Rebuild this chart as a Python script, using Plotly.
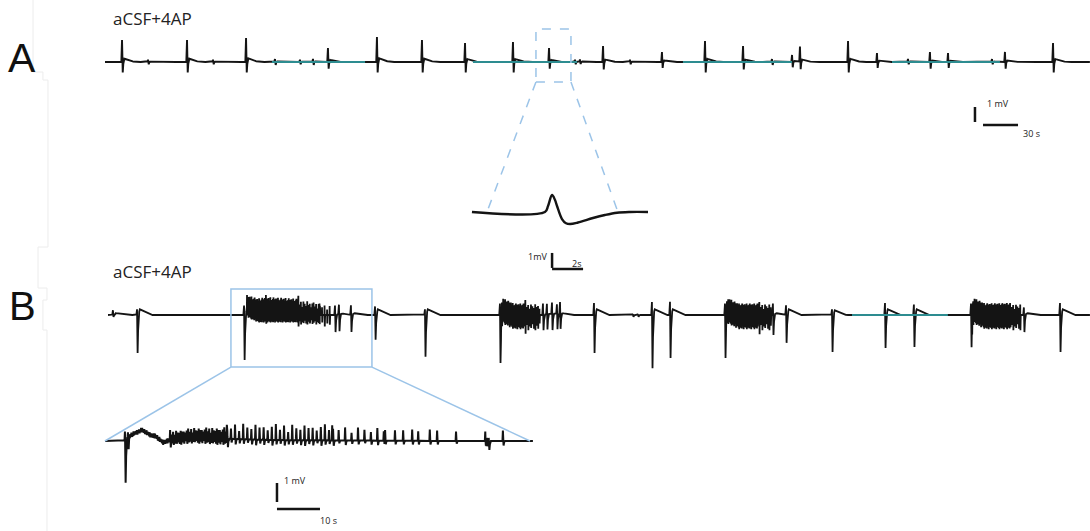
import numpy as np
import plotly.graph_objects as go

W, H = 1090, 531

# ---------------- DATA ----------------
# Panel A : 4-AP interictal events (time in s, deflections in mV)
A_DURATION = 844.3
A_T = [14.6, 36.9, 70.3, 92.6, 120.9, 145.7, 167.1, 178.3, 191.1, 233.1, 271.7, 308.6,
       349.7, 380.6, 402.9, 407.1, 426.9, 450.0, 477.4, 514.3, 546.9, 571.7, 588.9, 595.7,
       636.9, 661.7, 688.3, 707.1, 722.6, 760.3, 771.4, 812.6]
A_UP = [1.47, 0.15, 1.47, 0.15, 1.6, 0.2, 0.15, 0.2, 0.93, 1.67, 1.47, 1.27,
        1.33, 0.93, 0.15, 0.15, 1.07, 0.15, 0.67, 1.4, 1.07, 0.2, 0.47, 1.0,
        1.4, 0.6, 0.2, 0.67, 0.6, 0.2, 0.67, 1.27]
A_DN = [0.7, 0.15, 0.7, 0.15, 0.7, 0.2, 0.15, 0.2, 0.45, 0.7, 0.7, 0.7,
        0.7, 0.45, 0.15, 0.15, 0.5, 0.15, 0.4, 0.7, 0.5, 0.2, 0.35, 0.5,
        0.7, 0.4, 0.15, 0.45, 0.4, 0.15, 0.45, 0.7]
A_TEAL_START = [143.1, 315.4, 495.4, 674.6]
A_TEAL_END = [222.9, 404.6, 588.9, 767.1]
A_BOX_T = [369.4, 399.4]
A_BOX_V = [-1.33, 2.2]

# Panel A inset (single event, expanded)
AI_T = [0.77, 5.48, 5.68, 5.94, 6.13, 6.26, 6.58, 6.84, 7.10, 7.61, 8.58, 9.35, 10.13, 10.97, 12.13]
AI_V = [0.0, 0.0, 0.4, 1.13, 0.8, 0.4, -0.47, -0.75, -0.8, -0.7, -0.4, -0.2, -0.05, 0.0, 0.0]
AI_LINK_T = [1.74, 10.19]

# Panel B : ictal-like discharges
B_DURATION = 696.5
B_T = [3.5, 20.6, 96.5, 161.0, 163.8, 172.3, 189.4, 224.8, 278.0, 308.5, 311.3, 314.9,
       318.4, 320.6, 344.7, 372.3, 375.9, 385.8, 398.6, 437.6, 471.6, 480.9, 513.5,
       551.1, 571.6, 612.1, 649.6, 675.2]
B_UP = [0.25, 0.3, 0.5, 0.5, 0.5, 0.5, 0.45, 0.3, 0.6, 0.6, 0.55, 0.6,
        0.5, 0.6, 0.63, 0.05, 0.05, 0.68, 0.7, 0.6, 0.6, 0.5, 0.3,
        0.63, 0.55, 0.6, 0.4, 0.63]
B_DN = [0.1, 2.0, 2.37, 0.9, 0.9, 0.9, 1.3, 2.2, 2.63, 0.8, 0.8, 0.85,
        0.8, 0.8, 2.0, 0.1, 0.1, 2.8, 2.26, 2.26, 1.05, 1.47, 1.95,
        1.74, 1.68, 1.7, 0.9, 1.95]
B_HUMP = [0.1, 0.3, 0.3, 0.05, 0.05, 0.1, 0.3, 0.3, 0.3, 0.05, 0.05, 0.05,
          0.05, 0.05, 0.3, 0.0, 0.0, 0.3, 0.3, 0.3, 0.1, 0.3, 0.25,
          0.3, 0.3, 0.3, 0.1, 0.3]
# burst segments: start, end, interval, up at start, up at end, down
B_SEG_START = [98.6, 112.0, 135.0, 150.0, 278.5, 296.0, 439.0, 462.0, 612.8, 640.0]
B_SEG_END = [112.0, 135.0, 150.0, 157.5, 296.0, 306.5, 462.0, 469.5, 640.0, 646.8]
B_SEG_INT = [0.45, 0.45, 0.9, 1.8, 0.45, 1.0, 0.45, 1.0, 0.45, 1.0]
B_SEG_UP0 = [0.75, 0.95, 0.8, 0.6, 0.6, 0.6, 0.6, 0.6, 0.6, 0.6]
B_SEG_UP1 = [0.95, 0.85, 0.6, 0.5, 0.6, 0.55, 0.6, 0.55, 0.63, 0.55]
B_SEG_DN = [0.4, 0.4, 0.5, 0.6, 0.75, 0.8, 0.75, 0.8, 0.75, 0.8]
JAG = [1.0, 0.7, 0.9, 0.55, 0.95, 0.8, 0.65, 1.0, 0.75, 0.85, 0.6, 0.9]
B_TEAL_START = [527.7]
B_TEAL_END = [595.7]
B_BOX_T = [87.2, 187.2]
B_BOX_V = [-2.74, 1.37]

# Panel B inset (first discharge, expanded)
BI_START, BI_END = 1.16, 100.7
BI_SLOW_T = [1.16, 5.4, 7.0, 8.3, 9.7, 11.6, 12.8, 14.7, 17.0, 22.0, 29.5, 40.0, 80.0, 100.7]
BI_SLOW_V = [0.0, 0.0, 0.3, 0.45, 0.6, 0.35, 0.28, -0.05, 0.12, 0.22, 0.12, 0.05, 0.0, 0.0]
BI_SEG_START = [6.8, 16.3, 29.5, 54.0]
BI_SEG_END = [16.3, 29.5, 54.0, 66.0]
BI_SEG_INT = [0.25, 0.35, 0.95, 1.5]
BI_SEG_UP0 = [0.18, 0.4, 0.85, 0.8]
BI_SEG_UP1 = [0.18, 0.6, 0.85, 0.65]
BI_SEG_DN = [0.16, 0.35, 0.3, 0.25]
BI_T = [5.81, 6.5, 66.3, 68.6, 70.5, 72.6, 74.0, 76.7, 78.4, 82.8,
        89.6, 89.8, 90.0, 90.2, 90.4, 93.7]
BI_UP = [0.47, 0.25, 0.6, 0.55, 0.55, 0.6, 0.5, 0.6, 0.55, 0.5,
         0.5, 0.45, 0.5, 0.45, 0.5, 0.55]
BI_DN = [2.3, 0.7, 0.2, 0.2, 0.2, 0.2, 0.2, 0.2, 0.2, 0.15,
         0.5, 0.45, 0.5, 0.45, 0.5, 0.25]
BI_LINK_T = [1.16, 100.0]

# scale bars (panel anchors: time, mV; bar lengths: mV, s)
SB_A = dict(t=745.7, v=-3.0, mv=1.0, th=752.6, vh=-4.2, s=30)
SB_AI = dict(t=5.94, v=-2.73, mv=1.0, th=5.94, vh=-3.8, s=2)
SB_BI = dict(t=41.16, v=-2.21, mv=1.0, th=41.16, vh=-3.58, s=10)

# ---------------- LAYOUT GEOMETRY ----------------
PANELS = {
    'A': dict(n=1, xd=(105, 1090), yd=(20, 140), xr=(0, A_DURATION), yr=(-5.2, 2.8)),
    'AI': dict(n=2, xd=(460, 660), yd=(180, 280), xr=(0, 12.903), yr=(-4.533, 2.133)),
    'B': dict(n=3, xd=(108, 1090), yd=(270, 380), xr=(0, B_DURATION), yr=(-3.421, 2.368)),
    'BI': dict(n=4, xd=(100, 540), yd=(395, 531), xr=(0, 102.33), yr=(-4.737, 2.421)),
}


def ax(key):
    n = PANELS[key]['n']
    s = '' if n == 1 else str(n)
    return 'x' + s, 'y' + s


def paper(key, t, v):
    p = PANELS[key]
    px = p['xd'][0] + (t - p['xr'][0]) / (p['xr'][1] - p['xr'][0]) * (p['xd'][1] - p['xd'][0])
    py = p['yd'][1] - (v - p['yr'][0]) / (p['yr'][1] - p['yr'][0]) * (p['yd'][1] - p['yd'][0])
    return px / W, 1 - py / H


def add_ev(y, t, t0, offs, vals):
    y += np.interp(t - t0, offs, vals, left=0.0, right=0.0)


def add_trains(y, t, starts, ends, ints, up0s, up1s, dns, offs):
    for s, e, iv, u0, u1, d in zip(starts, ends, ints, up0s, up1s, dns):
        n = int(round((e - s) / iv))
        for k in range(n + 1):
            frac = k / max(n, 1)
            up = (u0 + (u1 - u0) * frac) * JAG[k % len(JAG)]
            dd = d * JAG[(k + 5) % len(JAG)]
            add_ev(y, t, s + k * iv, offs, [0, up, -dd, 0])


# ---------------- BUILD TRACES ----------------
tA = np.arange(0, A_DURATION, 0.1)
yA = np.zeros_like(tA)
for t0, u, d in zip(A_T, A_UP, A_DN):
    h = 0.15 * u
    add_ev(yA, tA, t0, [-0.6, 0, 0.6, 1.2, 2.0, 4.0, 8.0, 12.0], [0, u, -d, 0, h, 0.7 * h, 0.25 * h, 0])

tB = np.arange(0, B_DURATION, 0.05)
yB = np.zeros_like(tB)
for t0, u, d, h in zip(B_T, B_UP, B_DN, B_HUMP):
    add_ev(yB, tB, t0, [-0.5, 0, 0.4, 1.0, 2.0, 5.0, 10.0], [0, u, -d, 0, h, 0.6 * h, 0])
add_trains(yB, tB, B_SEG_START, B_SEG_END, B_SEG_INT, B_SEG_UP0, B_SEG_UP1, B_SEG_DN,
           [-0.12, 0, 0.15, 0.3])

tBI = np.arange(BI_START, BI_END, 0.02)
yBI = np.interp(tBI, BI_SLOW_T, BI_SLOW_V)
for t0, u, d in zip(BI_T, BI_UP, BI_DN):
    add_ev(yBI, tBI, t0, [-0.1, 0, 0.15, 0.35], [0, u, -d, 0])
add_trains(yBI, tBI, BI_SEG_START, BI_SEG_END, BI_SEG_INT, BI_SEG_UP0, BI_SEG_UP1, BI_SEG_DN,
           [-0.1, 0, 0.15, 0.35])

BLACK = '#141414'
TEAL = '#2d8c90'
LBLUE = '#9cc4e8'

fig = go.Figure()


def line(key, x, y, color=BLACK, width=1.5, shape='linear'):
    xa, ya = ax(key)
    fig.add_trace(go.Scatter(x=x, y=y, mode='lines', xaxis=xa, yaxis=ya, hoverinfo='skip',
                             line=dict(color=color, width=width, shape=shape), showlegend=False))


line('A', tA, yA, width=1.9)
tx, ty = [], []
for s, e in zip(A_TEAL_START, A_TEAL_END):
    tx += [s, e, None]
    ty += [0, 0, None]
line('A', tx, ty, color=TEAL, width=1.8)

line('AI', AI_T, AI_V, width=2.4, shape='spline')

line('B', tB, yB, width=1.8)
tx, ty = [], []
for s, e in zip(B_TEAL_START, B_TEAL_END):
    tx += [s, e, None]
    ty += [0, 0, None]
line('B', tx, ty, color=TEAL, width=1.8)

line('BI', tBI, yBI, width=2.0)

shapes = []
annotations = []

# zoom box A (dashed) and connectors
xa, ya = ax('A')
shapes.append(dict(type='rect', xref=xa, yref=ya, x0=A_BOX_T[0], x1=A_BOX_T[1],
                   y0=A_BOX_V[0], y1=A_BOX_V[1], line=dict(color=LBLUE, width=1.5, dash='dash')))
for tb, ti in zip(A_BOX_T, AI_LINK_T):
    p0 = paper('A', tb, A_BOX_V[0])
    p1 = paper('AI', ti, 0)
    shapes.append(dict(type='line', xref='paper', yref='paper', x0=p0[0], y0=p0[1], x1=p1[0], y1=p1[1],
                       line=dict(color=LBLUE, width=1.5, dash='dash')))

# zoom box B (solid) and connectors
xa, ya = ax('B')
shapes.append(dict(type='rect', xref=xa, yref=ya, x0=B_BOX_T[0], x1=B_BOX_T[1],
                   y0=B_BOX_V[0], y1=B_BOX_V[1], line=dict(color=LBLUE, width=1.5)))
for tb, ti in zip(B_BOX_T, BI_LINK_T):
    p0 = paper('B', tb, B_BOX_V[0])
    p1 = paper('BI', ti, 0)
    shapes.append(dict(type='line', xref='paper', yref='paper', x0=p0[0], y0=p0[1], x1=p1[0], y1=p1[1],
                       line=dict(color=LBLUE, width=1.5)))


def scalebar(key, sb, mv_text, s_text, mv_pos, s_pos):
    xa, ya = ax(key)
    shapes.append(dict(type='line', xref=xa, yref=ya, x0=sb['t'], x1=sb['t'], y0=sb['v'],
                       y1=sb['v'] - sb['mv'], line=dict(color=BLACK, width=2.5)))
    shapes.append(dict(type='line', xref=xa, yref=ya, x0=sb['th'], x1=sb['th'] + sb['s'], y0=sb['vh'],
                       y1=sb['vh'], line=dict(color=BLACK, width=2.5)))
    for txt, (x, y, xan) in ((mv_text, mv_pos), (s_text, s_pos)):
        annotations.append(dict(xref=xa, yref=ya, x=x, y=y, text=txt, showarrow=False, xanchor=xan,
                                yanchor='middle', font=dict(family='Open Sans', size=9, color='#222')))


scalebar('A', SB_A, '1 mV', '30 s', (754, -2.75, 'left'), (785, -4.75, 'left'))
scalebar('AI', SB_AI, '1mV', '2s', (5.75, -2.95, 'right'), (7.95, -3.45, 'right'))
scalebar('BI', SB_BI, '1 mV', '10 s', (42.3, -2.1, 'left'), (50.8, -4.2, 'left'))

# panel labels and conditions
for txt, x, y, size in (('A', 22, 58, 41), ('B', 22, 306, 40)):
    annotations.append(dict(xref='paper', yref='paper', x=x / W, y=1 - y / H, text=txt, showarrow=False,
                            xanchor='center', yanchor='middle',
                            font=dict(family='Liberation Sans', size=size, color='#111')))
for y in (18, 271):
    annotations.append(dict(xref='paper', yref='paper', x=111 / W, y=1 - y / H, text='aCSF+4AP',
                            showarrow=False, xanchor='left', yanchor='middle',
                            font=dict(family='Open Sans', size=17, color='#222')))

# faint scan edges at the left
EDGE_X = [33, 33, 43, 43, 48, 48, 38, 38, 47, 47, 43, 43, 47, 47]
EDGE_Y = [0, 72, 72, 80, 80, 247, 247, 288, 288, 300, 300, 330, 330, 531]
path = 'M ' + ' L '.join(f'{x / W:.4f},{1 - y / H:.4f}' for x, y in zip(EDGE_X, EDGE_Y))
shapes.append(dict(type='path', xref='paper', yref='paper', path=path, line=dict(color='#ececec', width=1)))

layout = dict(width=W, height=H, margin=dict(l=0, r=0, t=0, b=0), paper_bgcolor='white',
              plot_bgcolor='white', shapes=shapes, annotations=annotations, showlegend=False)
for key, p in PANELS.items():
    n = p['n']
    s = '' if n == 1 else str(n)
    layout['xaxis' + s] = dict(domain=[p['xd'][0] / W, p['xd'][1] / W], range=list(p['xr']), visible=False,
                               anchor='y' + s, fixedrange=True)
    layout['yaxis' + s] = dict(domain=[1 - p['yd'][1] / H, 1 - p['yd'][0] / H], range=list(p['yr']),
                               visible=False, anchor='x' + s, fixedrange=True)
fig.update_layout(**layout)
fig.write_html('out.html', config={'displayModeBar': False},
               post_script="document.body.style.margin='0';document.body.style.overflow='hidden';")
